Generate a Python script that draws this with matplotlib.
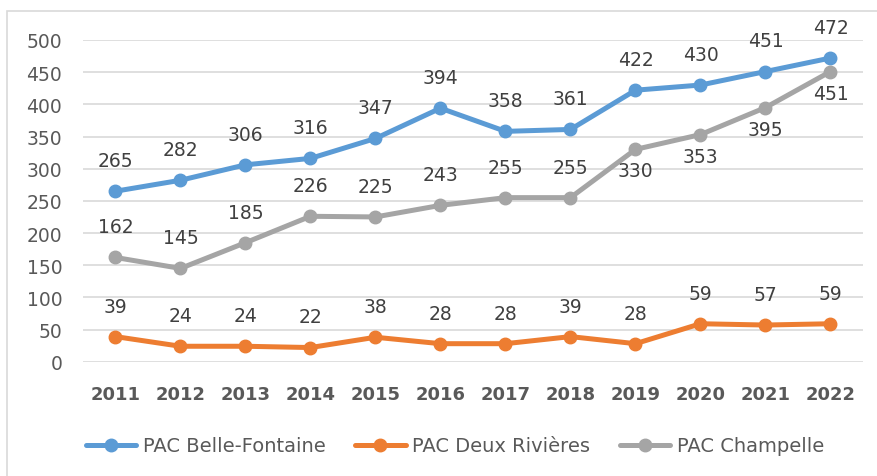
import matplotlib
matplotlib.use("Agg")
import matplotlib.pyplot as plt
from matplotlib.patches import Rectangle

years = ["2011", "2012", "2013", "2014", "2015", "2016", "2017", "2018", "2019", "2020", "2021", "2022"]
belle_fontaine = [265, 282, 306, 316, 347, 394, 358, 361, 422, 430, 451, 472]
deux_rivieres = [39, 24, 24, 22, 38, 28, 28, 39, 28, 59, 57, 59]
champelle = [162, 145, 185, 226, 225, 243, 255, 255, 330, 353, 395, 451]
series_names = ["PAC Belle-Fontaine", "PAC Deux Rivières", "PAC Champelle"]
y_ticks = [0, 50, 100, 150, 200, 250, 300, 350, 400, 450, 500]
# label placement for Champelle (above / below)
champelle_label_pos = ["above"] * 8 + ["below"] * 4

colors = ["#5B9BD5", "#ED7D31", "#A5A5A5"]
W, H = 878, 477
fig = plt.figure(figsize=(W / 100, H / 100), dpi=100)
plt.rcParams['font.family'] = ['DejaVu Sans']

# chart frame
fig.patches.append(Rectangle((7 / W, -0.1), 1.2, 1 - 12 / H + 0.1, transform=fig.transFigure,
                             fill=False, edgecolor="#D9D9D9", linewidth=1.2))

ax = fig.add_axes([83 / W, 1 - 362.7 / H, (863 - 83) / W, (362.7 - 41) / H])
x = list(range(len(years)))
fs = 13.5
for vals, col, name in zip([belle_fontaine, deux_rivieres, champelle], colors, series_names):
    ax.plot(x, vals, color=col, lw=3.6, marker="o", ms=9, label=name, solid_capstyle="round", zorder=3)

def label(xi, v, dy):
    ax.annotate(str(v), (xi, v), xytext=(0, dy), textcoords="offset points", ha="center", va="center",
                fontsize=fs, color="#404040", zorder=4)

for xi, v in zip(x, belle_fontaine):
    label(xi, v, 22)
for xi, v in zip(x, deux_rivieres):
    label(xi, v, 22)
for xi, v, p in zip(x, champelle, champelle_label_pos):
    label(xi, v, 22 if p == "above" else -15.5)

ax.set_xlim(-0.5, len(years) - 0.5)
ax.set_ylim(0, 500)
ax.set_yticks(y_ticks)
ax.set_xticks(x)
ax.set_xticklabels(years, fontweight="bold")
ax.tick_params(axis="y", length=0, pad=15, labelsize=fs, labelcolor="#595959")
ax.tick_params(axis="x", length=0, pad=17, labelsize=13, labelcolor="#595959")
ax.grid(axis="y", color="#D9D9D9", lw=1.2)
ax.set_axisbelow(True)
for s in ax.spines.values():
    s.set_visible(False)

leg = fig.legend(loc="center", bbox_to_anchor=(455 / W, 1 - 447 / H), ncol=3, frameon=False,
                 fontsize=14, handlelength=2.6, handletextpad=0.35, columnspacing=1.5, labelcolor="#595959")
fig.savefig("out.png", dpi=100)
